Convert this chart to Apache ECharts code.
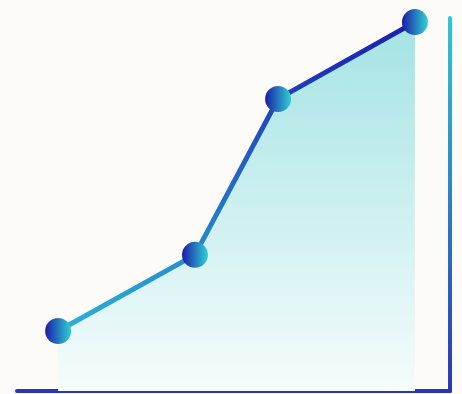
<!DOCTYPE html>
<html lang="en">
	<head>
		<meta charset="UTF-8" />
		<title>Growth</title>
		<style>
			html, body { margin: 0; padding: 0; background: #fdfbf7; }
		</style>
	</head>
	<body>
		<div id="main" style="width: 462px; height: 394px"></div>
		<script src="https://cdn.jsdelivr.net/npm/echarts@6/dist/echarts.min.js"></script>
		<script>
			// 数据
			var xValues = [9.5, 41.1, 60.3, 91.9];
			var yValues = [16.1, 36.5, 78.3, 98.9];

			var points = xValues.map(function (x, i) {
				return [x, yValues[i]];
			});

			var myChart = echarts.init(document.getElementById("main"));

			var option = {
				backgroundColor: "#fdfbf7",
				animation: false,
				grid: { left: 17, right: 12, top: 18, bottom: 3 },
				xAxis: {
					type: "value",
					min: 0,
					max: 100,
					axisLine: {
						show: true,
						onZero: false,
						lineStyle: { color: "#2a35b8", width: 4, cap: "round" },
					},
					axisTick: { show: false },
					axisLabel: { show: false },
					splitLine: { show: false },
				},
				yAxis: {
					type: "value",
					position: "right",
					min: 0,
					max: 100,
					axisLine: {
						show: true,
						onZero: false,
						lineStyle: {
							width: 4,
							cap: "round",
							color: new echarts.graphic.LinearGradient(0, 0, 0, 1, [
								{ offset: 0, color: "#30c8d2" },
								{ offset: 1, color: "#2a35b8" },
							]),
						},
					},
					axisTick: { show: false },
					axisLabel: { show: false },
					splitLine: { show: false },
				},
				series: [
					{
						type: "line",
						data: points,
						symbol: "circle",
						symbolSize: 26,
						lineStyle: {
							width: 5,
							color: new echarts.graphic.LinearGradient(0, 1, 0, 0, [
								{ offset: 0, color: "#2ab2d6" },
								{ offset: 1, color: "#1c1cae" },
							]),
						},
						itemStyle: {
							color: new echarts.graphic.LinearGradient(0, 0, 1, 0, [
								{ offset: 0, color: "#1a1ca8" },
								{ offset: 1, color: "#30d2d2" },
							]),
						},
						areaStyle: {
							color: new echarts.graphic.LinearGradient(0, 0, 0, 1, [
								{ offset: 0, color: "#a4e3e4" },
								{ offset: 1, color: "#f5fcfc" },
							]),
							opacity: 1,
						},
						z: 3,
					},
				],
			};

			myChart.setOption(option);
		</script>
	</body>
</html>
